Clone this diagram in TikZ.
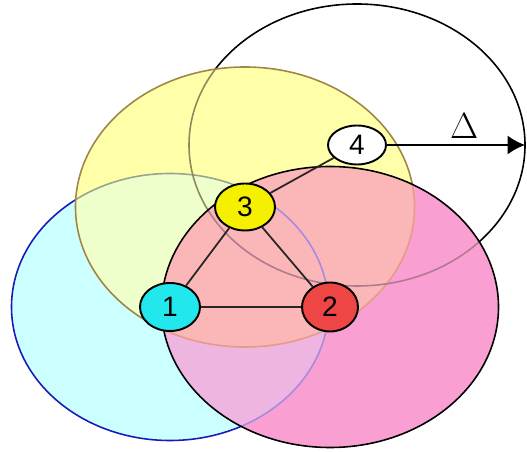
\documentclass[tikz,border=0pt]{standalone}
\usepackage{fontspec}
\newfontfamily\numfont{Liberation Sans}
\usetikzlibrary{arrows.meta, shapes.geometric}
\definecolor{cyanzone}{HTML}{CCFFFF}
\definecolor{cyanrim}{HTML}{1A1AB8}
\definecolor{yellowzone}{HTML}{FFFFAA}
\definecolor{yellowrim}{HTML}{A08545}
\definecolor{pinkzone}{HTML}{FA9FD2}
\definecolor{cyanyellow}{HTML}{EEFFCC}
\definecolor{cyanpink}{HTML}{EDB5E0}
\definecolor{yellowpink}{HTML}{FBB6B8}
\definecolor{cyannode}{HTML}{22E8EE}
\definecolor{rednode}{HTML}{EE4545}
\definecolor{yellownode}{HTML}{F5F000}
% sensing ranges
\newcommand{\rangeone}{(c1) ellipse [x radius=3.17, y radius=2.67]}
\newcommand{\rangetwo}{(c2) ellipse [x radius=3.37, y radius=2.81]}
\newcommand{\rangethree}{(c3) ellipse [x radius=3.39, y radius=2.80]}
\newcommand{\rangefour}{(c4) ellipse [x radius=3.36, y radius=2.82]}

\begin{document}
\begin{tikzpicture}[
  rimline/.style={line width=0.9pt},
  sensor/.style={ellipse, draw, line width=1.1pt, inner sep=0pt,
                 font=\numfont\fontsize{16}{18}\selectfont},
  link/.style={line width=1pt, black!85},
  reach/.style={-{Latex[length=3.5mm, width=3.8mm]}, line width=0.9pt}
]
\useasboundingbox (0,0) rectangle (10.54,9.04);
% ----- sensor positions -----
\coordinate (c1) at (3.40,2.90);
\coordinate (c2) at (6.60,2.90);
\coordinate (c3) at (4.90,4.90);
\coordinate (c4) at (7.14,6.14);
\coordinate (rim) at (10.50,6.14);
% ----- range of 4 -----
\draw[rimline] \rangefour;
% ----- range of 1 -----
\fill[cyanzone] \rangeone;
\draw[rimline, cyanrim] \rangeone;
% ----- range of 3 -----
\fill[yellowzone] \rangethree;
\begin{scope}
  \clip \rangethree;
  \fill[cyanyellow] \rangeone;
  \draw[rimline, color={rgb,255:red,150;green,165;blue,140}] \rangeone;
  \draw[rimline, color={rgb,255:red,140;green,138;blue,92}] \rangefour;
\end{scope}
\draw[rimline, yellowrim] \rangethree;
% ----- range of 2 -----
\fill[pinkzone] \rangetwo;
\begin{scope}
  \clip \rangetwo;
  \fill[cyanpink] \rangeone;
  \fill[yellowpink] \rangethree;
  \draw[rimline, color={rgb,255:red,165;green,139;blue,224}] \rangeone;
  \draw[rimline, color={rgb,255:red,229;green,156;blue,134}] \rangethree;
  \draw[rimline, color={rgb,255:red,176;green,122;blue,144}] \rangefour;
\end{scope}
\draw[rimline] \rangetwo;
% ----- sensors -----
\node[sensor, fill=cyannode, minimum width=1.20cm, minimum height=0.96cm] (n1) at (c1) {1};
\node[sensor, fill=rednode, minimum width=1.12cm, minimum height=0.98cm] (n2) at (c2) {2};
\node[sensor, fill=yellownode, minimum width=1.20cm, minimum height=0.94cm] (n3) at (c3) {3};
\node[sensor, fill=white, minimum width=1.16cm, minimum height=0.78cm] (n4) at (c4) {4};
\draw[link] (n1) -- (n2);
\draw[link] (n1) -- (n3);
\draw[link] (n2) -- (n3);
\draw[link] (n3) -- (n4);
% ----- range arrow -----
\draw[reach] (n4.east) -- node[above, pos=0.56, font=\fontsize{21}{24}\selectfont]{$\Delta$} (rim);
\end{tikzpicture}
\end{document}
